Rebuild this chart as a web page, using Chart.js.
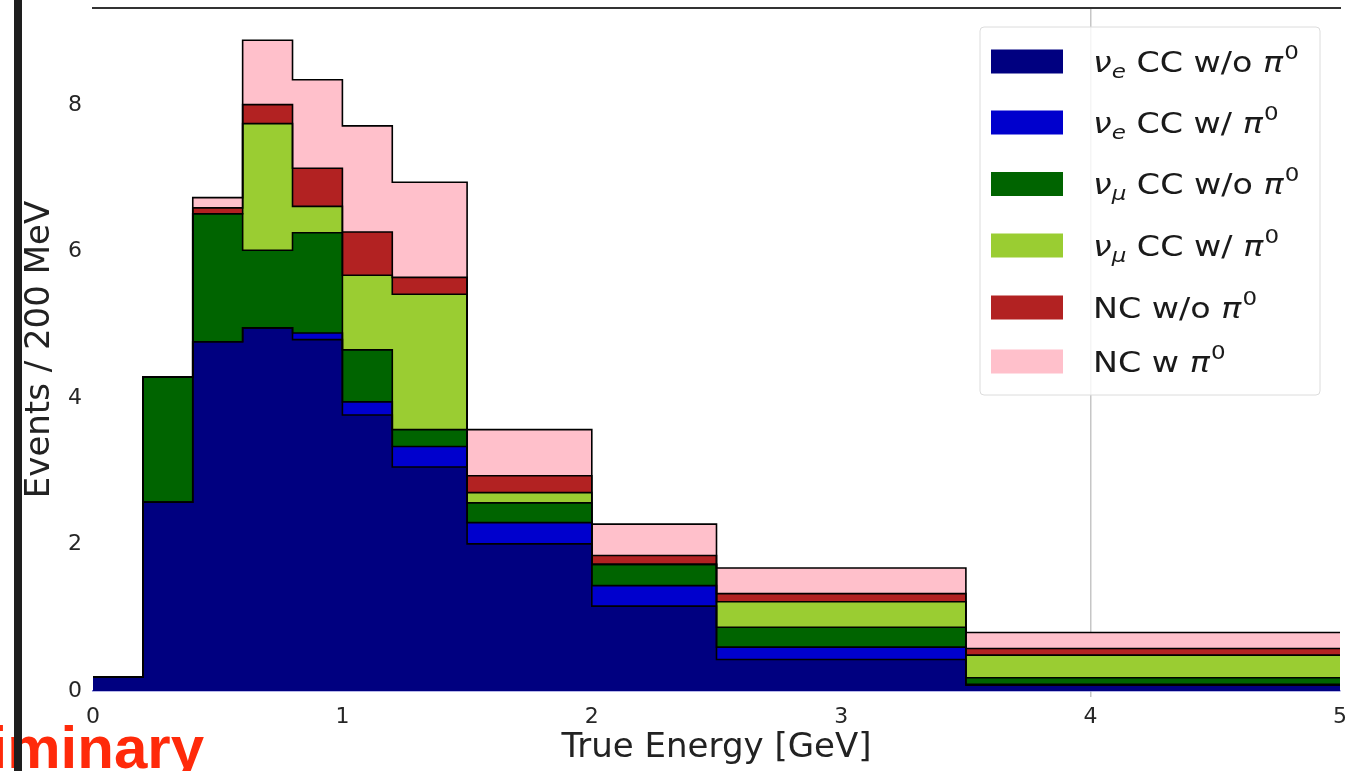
<!DOCTYPE html>
<html>
<head>
<meta charset="utf-8">
<script src="https://cdn.jsdelivr.net/npm/chart.js@4/dist/chart.umd.min.js"></script>
<style>
  html, body { margin: 0; padding: 0; background: #ffffff; overflow: hidden; }
  #wrap { width: 1347px; height: 771px; position: relative; }
</style>
</head>
<body>
<div id="wrap"><canvas id="c" width="1347" height="771"></canvas></div>
<script>
// Bin edges in true neutrino energy (GeV); the last bin is wide
const binEdges = [0, 0.2, 0.4, 0.6, 0.8, 1.0, 1.2, 1.5, 2.0, 2.5, 3.5, 5.0];

// Events per bin for each interaction category (stacked bottom to top)
const nueCCnoPi0  = [0.19, 2.58, 4.77, 4.96, 4.80, 3.77, 3.06, 2.01, 1.16, 0.43, 0.08];
const nueCCPi0    = [0.00, 0.00, 0.00, 0.00, 0.09, 0.18, 0.28, 0.29, 0.28, 0.17, 0.01];
const numuCCnoPi0 = [0.00, 1.71, 1.75, 1.06, 1.37, 0.71, 0.23, 0.27, 0.29, 0.27, 0.09];
const numuCCPi0   = [0.00, 0.00, 0.00, 1.73, 0.36, 1.02, 1.85, 0.14, 0.00, 0.35, 0.31];
const ncNoPi0     = [0.00, 0.00, 0.08, 0.26, 0.52, 0.59, 0.23, 0.23, 0.12, 0.11, 0.09];
const ncPi0       = [0.00, 0.00, 0.14, 0.88, 1.21, 1.45, 1.30, 0.63, 0.43, 0.35, 0.22];

const xTicks = [0, 1, 2, 3, 4, 5];
const yTicks = [0, 2, 4, 6, 8];

const seriesColors = ['#000080', '#0000cd', '#006400', '#9acd32', '#b22222', '#ffc0cb'];
const seriesLabels = ['νe CC w/o π0', 'νe CC w/ π0', 'νμ CC w/o π0', 'νμ CC w/ π0', 'NC w/o π0', 'NC w π0'];
// Legend text pieces: [particle, subscript, text, pion, superscript]
const legendParts = [
  ['ν', 'e', ' CC w/o ', 'π', '0'],
  ['ν', 'e', ' CC w/ ', 'π', '0'],
  ['ν', 'μ', ' CC w/o ', 'π', '0'],
  ['ν', 'μ', ' CC w/ ', 'π', '0'],
  ['', '', 'NC w/o ', 'π', '0'],
  ['', '', 'NC w ', 'π', '0']
];
const seriesValues = [nueCCnoPi0, nueCCPi0, numuCCnoPi0, numuCCPi0, ncNoPi0, ncPi0];

// Step outline: one point per left edge, plus the closing right edge
function stepPoints(vals) {
  return binEdges.map((x, i) => ({ x: x, y: vals[Math.min(i, vals.length - 1)] }));
}

const datasets = seriesValues.map((vals, i) => ({
  label: seriesLabels[i],
  data: stepPoints(vals),
  stepped: 'before',
  fill: i === 0 ? 'origin' : '-1',
  backgroundColor: seriesColors[i],
  borderColor: '#000000',
  borderWidth: 1.6,
  pointRadius: 0,
  tension: 0
}));

const FONT = '"DejaVu Sans", "Liberation Sans", sans-serif';

// Legend label with math-style particle subscript and pion superscript
function drawRichLabel(ctx, x, yMid, parts, size, stretch) {
  const base = yMid + size * 0.36;
  ctx.save();
  ctx.translate(x, base);
  ctx.scale(stretch, 1);
  let cx = 0;
  ctx.textAlign = 'left';
  ctx.textBaseline = 'alphabetic';
  ctx.fillStyle = '#1a1a1a';
  const [particle, sub, text, pion, sup] = parts;
  if (particle) {
    ctx.font = 'italic ' + size + 'px ' + FONT;
    ctx.fillText(particle, cx, 0);
    cx += ctx.measureText(particle).width;
    ctx.font = 'italic ' + Math.round(size * 0.7) + 'px ' + FONT;
    ctx.fillText(sub, cx, size * 0.2);
    cx += ctx.measureText(sub).width;
  }
  ctx.font = size + 'px ' + FONT;
  ctx.fillText(text, cx, 0);
  cx += ctx.measureText(text).width;
  ctx.font = 'italic ' + size + 'px ' + FONT;
  ctx.fillText(pion, cx, 0);
  cx += ctx.measureText(pion).width + 1;
  ctx.font = Math.round(size * 0.7) + 'px ' + FONT;
  ctx.fillText(sup, cx, -size * 0.45);
  ctx.restore();
}

const decorations = {
  id: 'decorations',
  afterDraw(chart) {
    const ctx = chart.ctx;
    ctx.save();
    // legend box
    const lx = 980, ly = 27, lw = 340, lh = 368;
    ctx.beginPath();
    ctx.roundRect(lx, ly, lw, lh, 4);
    ctx.fillStyle = 'rgba(255,255,255,0.82)';
    ctx.fill();
    ctx.strokeStyle = '#dcdcdc';
    ctx.lineWidth = 1;
    ctx.stroke();
    const rows = [61.5, 122.5, 184, 245.5, 307.5, 361.5];
    rows.forEach((y, i) => {
      ctx.fillStyle = seriesColors[i];
      ctx.fillRect(991, y - 12, 72, 24);
      drawRichLabel(ctx, 1093, y, legendParts[i], 29, 1.15);
    });
    // slide watermark, running off the left edge
    ctx.font = 'bold 60px "Liberation Sans", Arial, sans-serif';
    ctx.fillStyle = '#ff2a0a';
    ctx.textAlign = 'right';
    ctx.textBaseline = 'alphabetic';
    ctx.fillText('Preliminary', 204, 768);
    // slide border bar
    ctx.fillStyle = '#1e1e1e';
    ctx.fillRect(14, 0, 8, 771);
    ctx.restore();
  }
};

new Chart(document.getElementById('c'), {
  type: 'line',
  data: { datasets: datasets },
  options: {
    responsive: false,
    animation: false,
    devicePixelRatio: 1,
    layout: { padding: { left: 0, right: 7, top: 0, bottom: 0 } },
    plugins: {
      legend: { display: false },
      tooltip: { enabled: false },
      filler: { drawTime: 'beforeDatasetsDraw' }
    },
    scales: {
      x: {
        type: 'linear',
        position: 'bottom',
        min: 0,
        max: 5,
        afterBuildTicks: s => { s.ticks = xTicks.map(v => ({ value: v })); },
        afterFit: s => { s.height = 80; s.paddingLeft = 0; s.paddingRight = 0; },
        ticks: {
          font: { family: FONT, size: 22 },
          color: '#262626',
          padding: 7,
          maxRotation: 0
        },
        grid: {
          color: c => (c.tick && c.tick.value === 4) ? '#c6c6c6' : 'rgba(0,0,0,0)',
          lineWidth: 1.5,
          tickLength: 6
        },
        border: { display: true, color: '#6e6ed2', width: 1.5 },
        title: {
          display: true,
          text: 'True Energy [GeV]',
          font: { family: FONT, size: 34 },
          color: '#222222',
          padding: { top: 0, bottom: 2 }
        }
      },
      xTop: {
        type: 'linear',
        position: 'top',
        min: 0,
        max: 5,
        ticks: { display: false },
        grid: { display: false, drawTicks: false },
        border: { display: true, color: '#333333', width: 2 },
        afterFit: s => { s.height = 8; s.paddingLeft = 0; s.paddingRight = 0; }
      },
      y: {
        type: 'linear',
        stacked: true,
        min: 0,
        max: 9.33,
        afterBuildTicks: s => { s.ticks = yTicks.map(v => ({ value: v })); },
        afterFit: s => { s.width = 93; s.paddingTop = 0; s.paddingBottom = 0; },
        ticks: {
          font: { family: FONT, size: 22 },
          color: '#262626',
          padding: 11
        },
        grid: { display: false, drawTicks: false },
        border: { display: false },
        title: {
          display: true,
          text: 'Events / 200 MeV',
          font: { family: FONT, size: 34 },
          color: '#222222',
          padding: { top: 20, bottom: 0 }
        }
      }
    }
  },
  plugins: [decorations]
});
</script>
</body>
</html>
